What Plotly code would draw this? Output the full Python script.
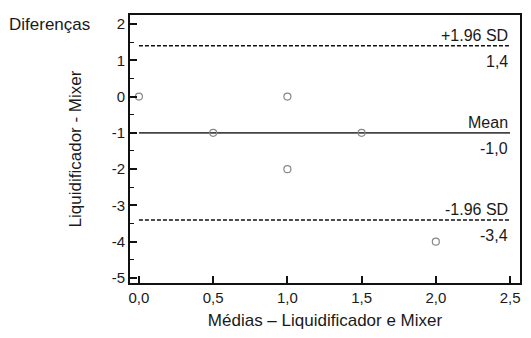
import plotly.graph_objects as go

# Data
medias = [0.0, 0.5, 1.0, 1.0, 1.5, 2.0]
diferencas = [0, -1, 0, -2, -1, -4]
mean_diff = -1.0
upper_loa = 1.4
lower_loa = -3.4
line_x = [0.0, 2.5]
x_ticks = [0.0, 0.5, 1.0, 1.5, 2.0, 2.5]
x_labels = ["0,0", "0,5", "1,0", "1,5", "2,0", "2,5"]
y_ticks = [2, 1, 0, -1, -2, -3, -4, -5]
y_labels = ["2", "1", "0", "-1", "-2", "-3", "-4", "-5"]
y_minor = [1.5, 0.5, -0.5, -1.5, -2.5, -3.5, -4.5]

FONT = "Liberation Sans, Arial, sans-serif"
TXT = 16

fig = go.Figure()

fig.add_trace(go.Scatter(x=line_x, y=[upper_loa, upper_loa], mode="lines",
                         line=dict(color="#111", width=1.5, dash="4px,2px"), hoverinfo="skip"))
fig.add_trace(go.Scatter(x=line_x, y=[mean_diff, mean_diff], mode="lines",
                         line=dict(color="#444", width=1.6), hoverinfo="skip"))
fig.add_trace(go.Scatter(x=line_x, y=[lower_loa, lower_loa], mode="lines",
                         line=dict(color="#111", width=1.5, dash="4px,2px"), hoverinfo="skip"))

fig.add_trace(go.Scatter(x=medias, y=diferencas, mode="markers",
                         marker=dict(symbol="circle-open", size=7, color="#888",
                                     line=dict(width=1.2, color="#888"))))

def fmt(v):
    return ("%.1f" % v).replace(".", ",")

labels = [(upper_loa, "+1.96 SD"), (mean_diff, "Mean"), (lower_loa, "-1.96 SD")]
for yv, name in labels:
    fig.add_annotation(x=2.5, y=yv, xref="x", yref="y", text=name, showarrow=False,
                       xanchor="right", yanchor="bottom", xshift=0, yshift=0,
                       font=dict(family=FONT, size=TXT, color="#1a1a1a"))
    fig.add_annotation(x=2.5, y=yv, xref="x", yref="y", text=fmt(yv), showarrow=False,
                       xanchor="right", yanchor="top", xshift=0, yshift=-5,
                       font=dict(family=FONT, size=TXT, color="#1a1a1a"))

fig.add_annotation(x=-0.316, y=0.966, xref="paper", yref="paper", text="Diferenças",
                   showarrow=False, xanchor="left", yanchor="middle",
                   font=dict(family=FONT, size=17, color="#1a1a1a"))

fig.update_layout(
    width=515, height=322,
    margin=dict(l=122, r=1, t=7, b=47),
    paper_bgcolor="white", plot_bgcolor="white",
    showlegend=False,
    font=dict(family=FONT, size=TXT, color="#1a1a1a"),
)

fig.update_xaxes(range=[-0.0603, 2.567], tickvals=x_ticks, ticktext=x_labels,
                 ticks="inside", ticklen=7, tickwidth=1.5, tickcolor="#111",
                 tickfont=dict(size=15), ticklabeloverflow="allow",
                 showline=True, linecolor="#111", linewidth=1.8, mirror=True,
                 showgrid=False, zeroline=False,
                 title=dict(text="Médias – Liquidificador e Mixer", font=dict(size=17), standoff=10))
fig.update_yaxes(range=[-5.14, 2.25], tickvals=y_ticks, ticktext=y_labels,
                 ticks="inside", ticklen=7, tickwidth=1.5, tickcolor="#111",
                 tickfont=dict(size=15),
                 minor=dict(tickvals=y_minor, ticks="inside",
                            ticklen=4, tickwidth=1.3, tickcolor="#111"),
                 showline=True, linecolor="#111", linewidth=1.8, mirror=True,
                 showgrid=False, zeroline=False,
                 title=dict(text="Liquidificador - Mixer", font=dict(size=17), standoff=26))

fig.write_html("out.html")
